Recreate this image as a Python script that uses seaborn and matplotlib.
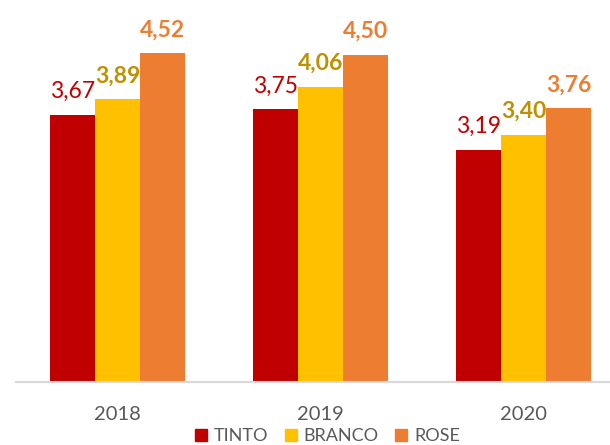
import pandas as pd
import seaborn as sns
import matplotlib as mpl
mpl.use("Agg")
import matplotlib.pyplot as plt
from matplotlib.lines import Line2D

# dados
anos = ["2018", "2019", "2020"]
tinto = [3.67, 3.75, 3.19]
branco = [3.89, 4.06, 3.40]
rose = [4.52, 4.50, 3.76]
series = ["TINTO", "BRANCO", "ROSE"]

cores = ["#C00000", "#FFC000", "#ED7D31"]
cores_rot = ["#C00000", "#BF9000", "#ED7D31"]
pesos = ["normal", "bold", "bold"]

df = pd.DataFrame({
    "ano": anos * 3,
    "tipo": ["TINTO"] * 3 + ["BRANCO"] * 3 + ["ROSE"] * 3,
    "valor": tinto + branco + rose,
})

sns.set_style("white")
plt.rcParams["font.family"] = ["Lato", "DejaVu Sans"]

fig = plt.figure(figsize=(6.1, 4.45), dpi=100)
ax = fig.add_axes([16 / 610, 63 / 445, 594 / 610, 382 / 445])

sns.barplot(data=df, x="ano", y="valor", hue="tipo", hue_order=series,
            palette=cores, width=0.665, gap=0, ax=ax, legend=False,
            errorbar=None, edgecolor="none", saturation=1)

for cont, cor, peso in zip(ax.containers, cores_rot, pesos):
    for bar in cont:
        v = bar.get_height()
        ax.annotate(f"{v:.2f}".replace(".", ","),
                    (bar.get_x() + bar.get_width() / 2, v),
                    xytext=(0, 12), textcoords="offset points",
                    ha="center", va="baseline", fontsize=16.5,
                    color=cor, fontweight=peso)

ax.set_xlim(-0.5, 2.426)
ax.set_ylim(0, 5.25)
ax.set_yticks([])
ax.set_xlabel("")
ax.set_ylabel("")
for s in ["top", "right", "left"]:
    ax.spines[s].set_visible(False)
ax.spines["bottom"].set_color("#D9D9D9")
ax.spines["bottom"].set_linewidth(1.5)
ax.tick_params(axis="x", length=0, pad=17, labelsize=14.5, labelcolor="#595959")

handles = [Line2D([], [], marker="s", linestyle="none", markersize=8.6,
                  color=c) for c in cores]
fig.legend(handles, series, loc="center", bbox_to_anchor=(326 / 610, 9 / 445),
           ncol=3, frameon=False, fontsize=13, handletextpad=0.2,
           handlelength=1.0, columnspacing=0.75, labelcolor="#595959",
           borderpad=0)

fig.savefig("out.png", dpi=100)
